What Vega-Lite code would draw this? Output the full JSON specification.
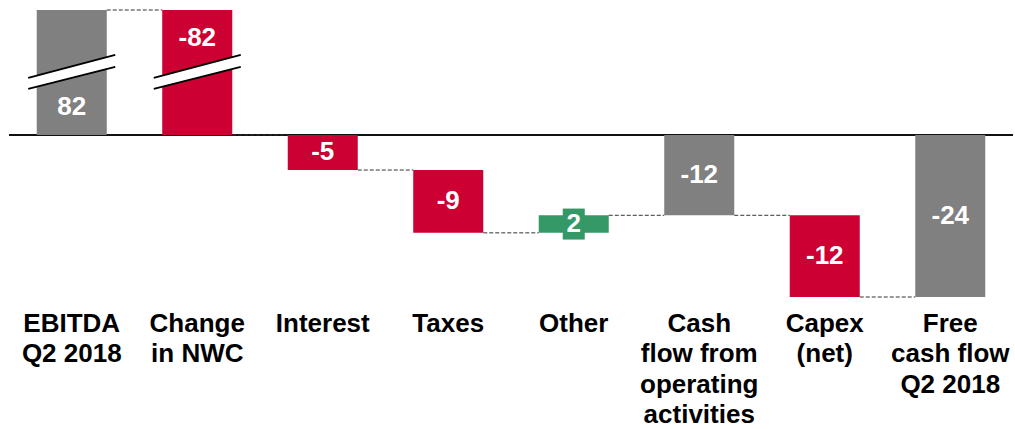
{
  "$schema": "https://vega.github.io/schema/vega-lite/v6.json",
  "width": 1004,
  "height": 287,
  "autosize": {"type": "none"},
  "padding": {"left": 9, "top": 10, "right": 2, "bottom": 132},
  "background": "white",
  "config": {"view": {"stroke": null}, "font": "Liberation Sans"},
  "datasets": {
    "steps": [
      {"step": "EBITDA\nQ2 2018", "value": 82, "start": 0, "end": 18.5, "kind": "total", "labelAt": 4.15},
      {"step": "Change\nin NWC", "value": -82, "start": 18.5, "end": 0, "kind": "decrease", "labelAt": 14.4},
      {"step": "Interest", "value": -5, "start": 0, "end": -5.2, "kind": "decrease"},
      {"step": "Taxes", "value": -9, "start": -5.2, "end": -14.5, "kind": "decrease"},
      {"step": "Other", "value": 2, "start": -14.5, "end": -11.9, "kind": "increase"},
      {"step": "Cash\nflow from\noperating\nactivities", "value": -12, "start": 0, "end": -11.9, "kind": "total"},
      {"step": "Capex\n(net)", "value": -12, "start": -11.9, "end": -24, "kind": "decrease"},
      {"step": "Free\ncash flow\nQ2 2018", "value": -24, "start": 0, "end": -24, "kind": "total"}
    ],
    "connectors": [
      {"from": "EBITDA\nQ2 2018", "to": "Change\nin NWC", "level": 18.5},
      {"from": "Change\nin NWC", "to": "Interest", "level": 0},
      {"from": "Interest", "to": "Taxes", "level": -5.2},
      {"from": "Taxes", "to": "Other", "level": -14.5},
      {"from": "Other", "to": "Cash\nflow from\noperating\nactivities", "level": -11.9},
      {"from": "Cash\nflow from\noperating\nactivities", "to": "Capex\n(net)", "level": -11.9},
      {"from": "Capex\n(net)", "to": "Free\ncash flow\nQ2 2018", "level": -24}
    ],
    "breaks": [
      {"step": "EBITDA\nQ2 2018", "at": 9.3},
      {"step": "Change\nin NWC", "at": 9.3}
    ],
    "baseline": [{"level": 0}]
  },
  "layer": [
    {
      "data": {"name": "baseline"},
      "mark": {"type": "rule", "color": "#111111", "strokeWidth": 2},
      "encoding": {"y": {"field": "level", "type": "quantitative", "axis": null, "scale": {"domain": [-24, 18.5], "nice": false, "zero": false}}}
    },
    {
      "data": {"name": "steps"},
      "mark": {"type": "bar"},
      "encoding": {
        "x": {
          "field": "step", "type": "nominal", "sort": null,
          "scale": {"domain": ["EBITDA\nQ2 2018", "Change\nin NWC", "Interest", "Taxes", "Other", "Cash\nflow from\noperating\nactivities", "Capex\n(net)", "Free\ncash flow\nQ2 2018"], "paddingInner": 0.442, "paddingOuter": 0.221},
          "axis": {
            "title": null, "domain": false, "ticks": false, "grid": false, "labelAngle": 0,
            "labelExpr": "split(datum.value, '\\n')",
            "labelFont": "Liberation Sans", "labelFontWeight": "bold", "labelFontSize": 26,
            "labelColor": "#000000", "labelBaseline": "top", "labelLineHeight": 30.5,
            "labelPadding": 13, "labelLimit": 0, "labelOverlap": false
          }
        },
        "y": {"field": "start", "type": "quantitative", "axis": null, "scale": {"domain": [-24, 18.5], "nice": false, "zero": false}},
        "y2": {"field": "end"},
        "color": {"field": "kind", "type": "nominal", "legend": null,
          "scale": {"domain": ["total", "decrease", "increase"], "range": ["#808080", "#CC0033", "#349966"]}}
      }
    },
    {
      "data": {"name": "connectors"},
      "mark": {"type": "rule", "color": "#333333", "strokeWidth": 1, "strokeDash": [4, 2]},
      "encoding": {
        "x": {"field": "from", "type": "nominal", "bandPosition": 1},
        "x2": {"field": "to", "bandPosition": 0},
        "y": {"field": "level", "type": "quantitative"}
      }
    },
    {
      "data": {"name": "breaks"},
      "mark": {"type": "point", "shape": "M-1,0.132L1,-0.397L1,-0.121L-1,0.385Z", "size": 7569, "filled": true, "fill": "white", "opacity": 1, "strokeWidth": 0},
      "encoding": {
        "x": {"field": "step", "type": "nominal"},
        "y": {"field": "at", "type": "quantitative"}
      }
    },
    {
      "data": {"name": "breaks"},
      "mark": {"type": "point", "shape": "M-1,0.132L1,-0.397M-1,0.385L1,-0.121", "size": 7569, "filled": false, "stroke": "black", "opacity": 1, "strokeWidth": 2},
      "encoding": {
        "x": {"field": "step", "type": "nominal"},
        "y": {"field": "at", "type": "quantitative"}
      }
    },
    {
      "data": {"name": "steps"},
      "transform": [
        {"filter": "datum.step === 'Other'"},
        {"calculate": "(datum.start + datum.end) / 2", "as": "mid"}
      ],
      "mark": {"type": "point", "shape": "M-0.71,-1H0.71V1H-0.71Z", "size": 961, "filled": true, "fill": "#349966", "opacity": 1, "strokeWidth": 0},
      "encoding": {
        "x": {"field": "step", "type": "nominal"},
        "y": {"field": "mid", "type": "quantitative"}
      }
    },
    {
      "data": {"name": "steps"},
      "transform": [
        {"calculate": "isValid(datum.labelAt) ? datum.labelAt : (datum.start + datum.end) / 2", "as": "ly"}
      ],
      "mark": {"type": "text", "font": "Liberation Sans", "fontWeight": "bold", "fontSize": 26, "color": "white", "baseline": "middle", "align": "center"},
      "encoding": {
        "x": {"field": "step", "type": "nominal"},
        "y": {"field": "ly", "type": "quantitative"},
        "text": {"field": "value", "type": "nominal"}
      }
    }
  ]
}
